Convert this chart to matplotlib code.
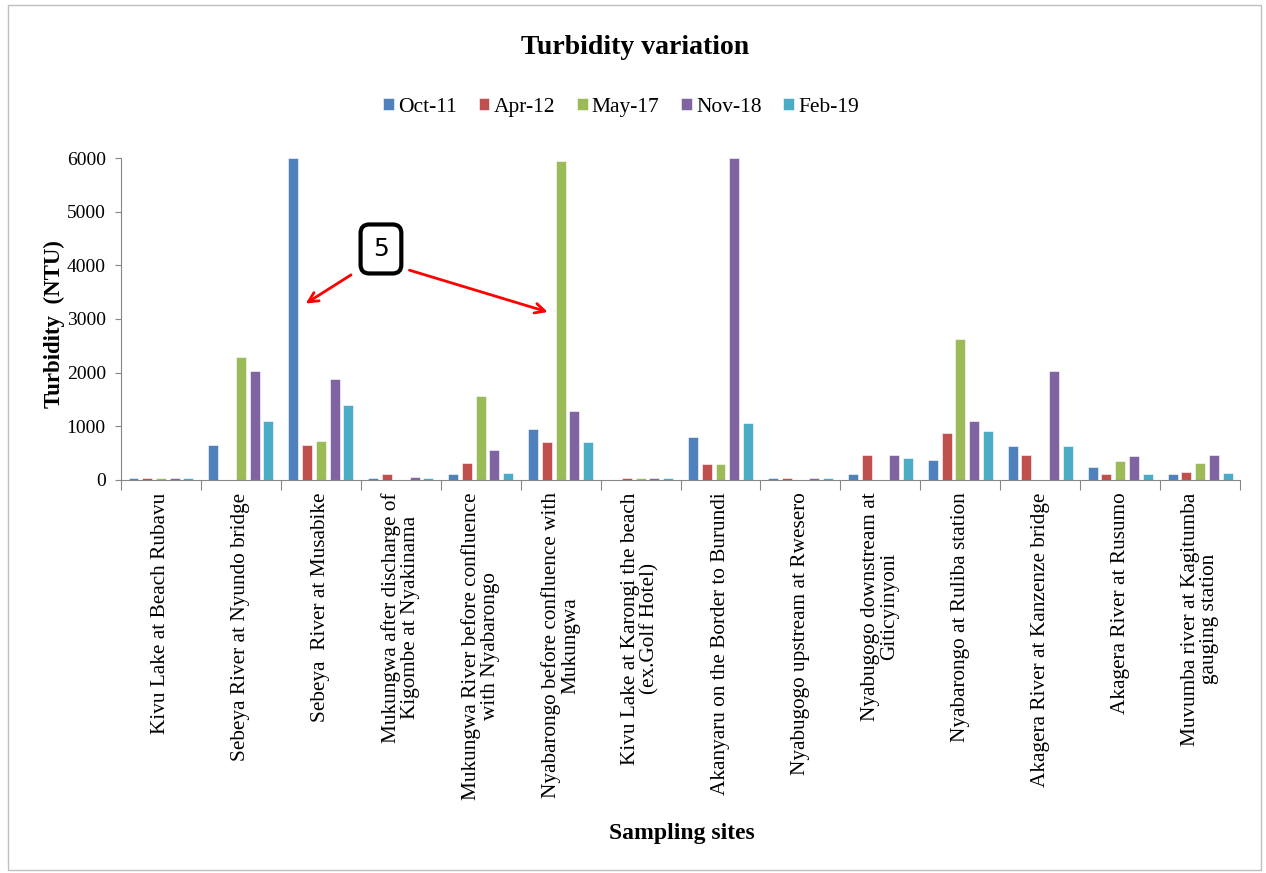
import numpy as np
import matplotlib.pyplot as plt
from matplotlib.patches import Rectangle

# ============================================================
# Data
# ============================================================
sites = [
    "Kivu Lake at Beach Rubavu",
    "Sebeya River at Nyundo bridge",
    "Sebeya  River at Musabike",
    "Mukungwa after discharge of\nKigombe at Nyakinama",
    "Mukungwa River before confluence\nwith Nyabarongo",
    "Nyabarongo before confluence with\nMukungwa",
    "Kivu Lake at Karongi the beach\n(ex.Golf Hotel)",
    "Akanyaru on the Border to Burundi",
    "Nyabugogo upstream at Rwesero",
    "Nyabugogo downstream at\nGiticyinyoni",
    "Nyabarongo at Ruliba station",
    "Akagera River at Kanzenze bridge",
    "Akagera River at Rusumo",
    "Muvumba river at Kagitumba\ngauging station",
]

oct_11 = [40, 655, 6000, 30, 105, 950, 0, 800, 35, 105, 365, 635, 250, 105]
apr_12 = [40, 0, 660, 105, 325, 705, 35, 300, 35, 465, 875, 465, 105, 155]
may_17 = [40, 2300, 730, 0, 1565, 5940, 35, 300, 0, 0, 2630, 0, 345, 320]
nov_18 = [40, 2025, 1880, 55, 560, 1285, 35, 6000, 35, 465, 1090, 2030, 440, 465]
feb_19 = [40, 1090, 1400, 35, 130, 705, 35, 1060, 35, 415, 920, 635, 105, 130]

series_names = ["Oct-11", "Apr-12", "May-17", "Nov-18", "Feb-19"]
colors = ["#4F81BD", "#C0504D", "#9BBB59", "#8064A2", "#4BACC6"]

serif = "Liberation Serif"

# ============================================================
# Figure
# ============================================================
fig = plt.figure(figsize=(12.66, 8.73), dpi=100)
ax = fig.add_axes([0.0956, 0.4502, 0.8839, 0.3688])

fig.patches.append(Rectangle((0.006, 0.003), 0.990, 0.991, transform=fig.transFigure,
                             fill=False, edgecolor="#BFBFBF", lw=1.0))

x = np.arange(len(sites))
slot = 0.172
width = 0.125
all_series = [oct_11, apr_12, may_17, nov_18, feb_19]
for i, (vals, name, c) in enumerate(zip(all_series, series_names, colors)):
    ax.bar(x + (i - 2) * slot, vals, width=width, color=c, label=name,
           edgecolor="white", linewidth=0.4)

ax.set_xlim(-0.5, len(sites) - 0.5)
ax.set_ylim(0, 6000)
ax.set_yticks(range(0, 6001, 1000))
ax.tick_params(axis="y", labelsize=14, colors="#000000", length=4, pad=7,
               color="#868686")
for lab in ax.get_yticklabels():
    lab.set_family(serif)
    lab.set_color("black")

# category boundaries as ticks, labels at centres
ax.set_xticks(np.arange(-0.5, len(sites), 1.0))
ax.set_xticklabels([])
ax.set_xticks(x, minor=True)
ax.set_xticklabels(sites, minor=True, rotation=90, va="top", ha="center",
                   family=serif, fontsize=15.3, multialignment="center",
                   linespacing=1.0)
ax.tick_params(axis="x", which="major", length=7, color="#868686")
ax.tick_params(axis="x", which="minor", length=0, pad=9)

for s in ["top", "right"]:
    ax.spines[s].set_visible(False)
for s in ["left", "bottom"]:
    ax.spines[s].set_color("#868686")

ax.set_ylabel("Turbidity  (NTU)", family=serif, fontweight="bold", fontsize=16.5)
ax.yaxis.set_label_coords(-0.0505, 0.484)
fig.text(0.539, 0.045, "Sampling sites", family=serif, fontweight="bold",
         fontsize=17, ha="center", va="center")
fig.text(0.502, 0.946, "Turbidity variation", family=serif,
         fontweight="bold", fontsize=20, ha="center", va="center")

ax.legend(loc="center", bbox_to_anchor=(0.447, 1.158), ncol=5, frameon=False,
          prop={"family": serif, "size": 15.5}, handlelength=0.5,
          handleheight=0.5, handletextpad=0.2, columnspacing=1.0)

# annotation box with two red arrows
ax.text(2.752, 4305, "5", ha="center", va="center", fontsize=18,
        family="DejaVu Sans",
        bbox=dict(boxstyle="round,pad=0.5,rounding_size=0.35", fc="white",
                  ec="black", lw=3))
ax.annotate("", xy=(1.781, 3260), xytext=(2.407, 3850),
            arrowprops=dict(arrowstyle="->,head_length=0.7,head_width=0.35",
                            color="red", lw=2))
ax.annotate("", xy=(4.872, 3115), xytext=(3.075, 3925),
            arrowprops=dict(arrowstyle="->,head_length=0.7,head_width=0.35",
                            color="red", lw=2))

fig.savefig("out.png", dpi=100)
